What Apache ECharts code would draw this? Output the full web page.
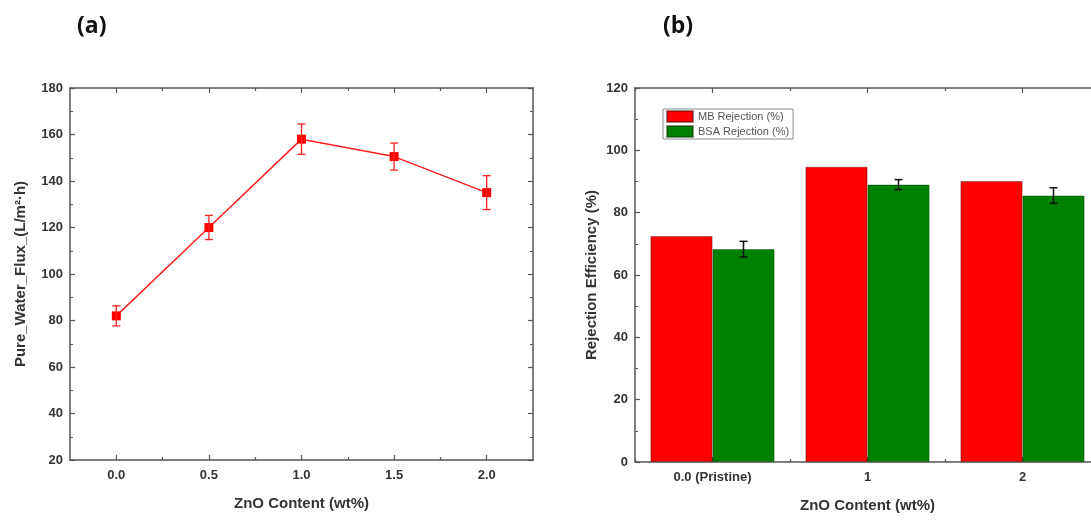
<!DOCTYPE html>
<html>
<head>
<meta charset="utf-8">
<script src="https://cdn.jsdelivr.net/npm/echarts@6/dist/echarts.min.js"></script>
<style>
  html, body { margin: 0; padding: 0; background: #fff; }
  #chart { width: 1091px; height: 523px; }
</style>
</head>
<body>
<div id="chart"></div>
<script>
// (a) pure water flux vs ZnO content
const fluxX = [0, 0.5, 1.0, 1.5, 2.0]
const fluxY = [82, 120, 158, 150.5, 135]
const fluxErr = [4.3, 5.2, 6.5, 5.8, 7.3]
const fluxMajorTicks = [0, 0.5, 1.0, 1.5, 2.0]
const fluxMinorTicks = [0.25, 0.75, 1.25, 1.75]

// (b) rejection efficiency
const rejCategories = ['0.0 (Pristine)', '1', '2']
const mbRejection = [72.5, 94.7, 90.1]
const bsaRejection = [68.3, 89.0, 85.5]
const bsaErr = [2.5, 1.6, 2.5]

const BAR_W = 62
const FONT = "'Liberation Sans', Arial, sans-serif"
const AXIS_COLOR = '#555'
const TXT = '#333'

const chart = echarts.init(document.getElementById('chart'))

const frameLine = { show: true, onZero: false, lineStyle: { color: AXIS_COLOR, width: 1.5 } }
const labelStyle = { color: TXT, fontSize: 13, fontWeight: 'bold', fontFamily: FONT }
const nameStyle = { color: TXT, fontSize: 15, fontWeight: 'bold', fontFamily: FONT }

// 误差棒 — 竖线加上下两个短帽
function errorBar(color, dx, cap, width) {
  return function (params, api) {
    const x = api.value(0), v = api.value(1), e = api.value(2)
    const hi = api.coord([x, v + e])
    const lo = api.coord([x, v - e])
    const cx = hi[0] + dx
    const style = { stroke: color, lineWidth: width }
    return {
      type: 'group',
      children: [
        { type: 'line', shape: { x1: cx, y1: hi[1], x2: cx, y2: lo[1] }, style },
        { type: 'line', shape: { x1: cx - cap, y1: hi[1], x2: cx + cap, y2: hi[1] }, style },
        { type: 'line', shape: { x1: cx - cap, y1: lo[1], x2: cx + cap, y2: lo[1] }, style }
      ]
    }
  }
}

function valueXAxis(position, ticks, len, showLine, showLabel, extra) {
  return Object.assign({
    gridIndex: 0, type: 'value', position, min: -0.25, max: 2.25,
    axisLine: showLine ? frameLine : { show: false, onZero: false },
    axisTick: { show: true, inside: true, length: len, customValues: ticks,
      lineStyle: { color: AXIS_COLOR, width: 1.2 } },
    axisLabel: showLabel
      ? Object.assign({ customValues: ticks, margin: 9, formatter: v => Number(v).toFixed(1) }, labelStyle)
      : { show: false },
    splitLine: { show: false }
  }, extra || {})
}

function catXAxis(position, align, len, showLine, showLabel, extra) {
  return Object.assign({
    gridIndex: 1, type: 'category', position, data: rejCategories, boundaryGap: true,
    axisLine: showLine ? frameLine : { show: false, onZero: false },
    axisTick: { show: true, inside: true, length: len, alignWithLabel: align,
      lineStyle: { color: AXIS_COLOR, width: 1.2 } },
    axisLabel: showLabel ? Object.assign({ margin: 9 }, labelStyle) : { show: false },
    splitLine: { show: false }
  }, extra || {})
}

function valueYAxis(grid, position, min, max, showLabel, extra) {
  return Object.assign({
    gridIndex: grid, type: 'value', position, min, max, interval: 20,
    axisLine: frameLine,
    axisTick: { show: true, inside: true, length: 5, lineStyle: { color: AXIS_COLOR, width: 1.2 } },
    minorTick: { show: true, splitNumber: 2, length: 3, lineStyle: { color: AXIS_COLOR, width: 1 } },
    axisLabel: showLabel ? Object.assign({ margin: 7 }, labelStyle) : { show: false },
    splitLine: { show: false }
  }, extra || {})
}

chart.setOption({
  animation: false,
  title: [
    { text: '(a)', left: 72, top: 10, textStyle: { fontSize: 23, fontWeight: 'bold', fontFamily: "'Open Sans', sans-serif", color: '#111' } },
    { text: '(b)', left: 658, top: 10, textStyle: { fontSize: 23, fontWeight: 'bold', fontFamily: "'Open Sans', sans-serif", color: '#111' } }
  ],
  legend: {
    data: ['MB Rejection (%)', 'BSA Rejection (%)'],
    orient: 'vertical', left: 663, top: 109,
    icon: 'rect', itemWidth: 26, itemHeight: 11, itemGap: 2,
    padding: [1, 4, 1, 3],
    borderColor: '#888', borderWidth: 1,
    textStyle: { fontSize: 11, color: '#555', fontFamily: FONT }
  },
  grid: [
    { left: 70, top: 88, width: 463, height: 372, outerBoundsMode: 'none' },
    { left: 635, top: 88, width: 465, height: 374, outerBoundsMode: 'none' }
  ],
  xAxis: [
    valueXAxis('bottom', fluxMajorTicks, 5, true, true, {
      name: 'ZnO Content (wt%)', nameLocation: 'middle', nameGap: 36, nameTextStyle: nameStyle
    }),
    valueXAxis('bottom', fluxMinorTicks, 3, false, false),
    valueXAxis('top', fluxMajorTicks, 5, true, false),
    valueXAxis('top', fluxMinorTicks, 3, false, false),
    catXAxis('bottom', true, 5, true, true, {
      name: 'ZnO Content (wt%)', nameLocation: 'middle', nameGap: 36, nameTextStyle: nameStyle
    }),
    catXAxis('bottom', false, 3, false, false),
    catXAxis('top', true, 5, true, false),
    catXAxis('top', false, 3, false, false)
  ],
  yAxis: [
    valueYAxis(0, 'left', 20, 180, true, {
      name: 'Pure_Water_Flux_(L/m²·h)', nameLocation: 'middle', nameGap: 42, nameTextStyle: nameStyle
    }),
    valueYAxis(0, 'right', 20, 180, false),
    valueYAxis(1, 'left', 0, 120, true, {
      name: 'Rejection Efficiency (%)', nameLocation: 'middle', nameGap: 36, nameTextStyle: nameStyle
    }),
    valueYAxis(1, 'right', 0, 120, false)
  ],
  series: [
    {
      name: 'Flux', type: 'line', xAxisIndex: 0, yAxisIndex: 0,
      data: fluxX.map((x, i) => [x, fluxY[i]]),
      symbol: 'rect', symbolSize: 9,
      itemStyle: { color: '#ff0000' },
      lineStyle: { color: '#ff2020', width: 1.5 },
      z: 3
    },
    {
      name: 'FluxErr', type: 'custom', xAxisIndex: 0, yAxisIndex: 0,
      data: fluxX.map((x, i) => [x, fluxY[i], fluxErr[i]]),
      renderItem: errorBar('#ff2020', 0, 4, 1.3),
      z: 4
    },
    {
      name: 'MB Rejection (%)', type: 'bar', xAxisIndex: 4, yAxisIndex: 2,
      data: mbRejection, barWidth: BAR_W, barGap: '0%',
      itemStyle: { color: '#ff0000', borderColor: 'rgba(60,0,0,0.45)', borderWidth: 0.8 }
    },
    {
      name: 'BSA Rejection (%)', type: 'bar', xAxisIndex: 4, yAxisIndex: 2,
      data: bsaRejection, barWidth: BAR_W, barGap: '0%',
      itemStyle: { color: '#008000', borderColor: 'rgba(0,40,0,0.45)', borderWidth: 0.8 }
    },
    {
      name: 'BSAErr', type: 'custom', xAxisIndex: 4, yAxisIndex: 2,
      data: bsaRejection.map((v, i) => [i, v, bsaErr[i]]),
      renderItem: errorBar('#111', BAR_W / 2, 4, 1.5),
      z: 5
    }
  ]
})
</script>
</body>
</html>
